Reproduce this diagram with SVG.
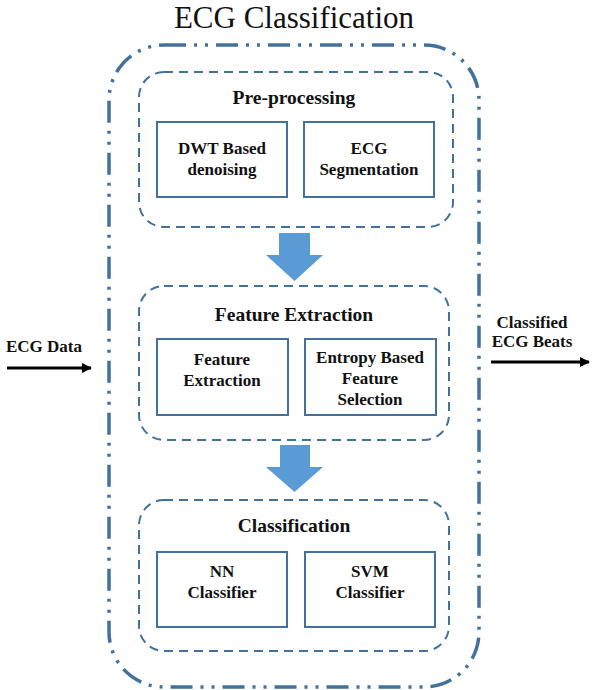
<svg xmlns="http://www.w3.org/2000/svg" width="593" height="690" viewBox="0 0 593 690">
<style>
.title{font-family:"Liberation Serif","Times New Roman",serif;font-size:31px;fill:#111;text-anchor:middle}
.grp{font-family:"Liberation Serif","Times New Roman",serif;font-size:19.5px;font-weight:bold;fill:#111;text-anchor:middle}
.lbl{font-family:"Liberation Serif","Times New Roman",serif;font-size:17px;font-weight:bold;fill:#111;text-anchor:middle}
.outer{fill:none;stroke:#41719C;stroke-width:3.5;stroke-dasharray:22 8 3 8 3 8}
.dash{fill:none;stroke:#41719C;stroke-width:2;stroke-dasharray:9 6}
.box{fill:#fff;stroke:#41719C;stroke-width:2}
.blk{fill:#5B9BD5}
.line{stroke:#000;stroke-width:3}
</style>
<defs>
<marker id="ah" markerWidth="10" markerHeight="10" refX="9" refY="5" orient="auto" markerUnits="userSpaceOnUse">
<path d="M0,0 L10,5 L0,10 z" fill="#000"/>
</marker>
</defs>
<rect width="593" height="690" fill="#fff"/>
<g id="outer">
<rect class="outer" x="109" y="45" width="370" height="642" rx="55" ry="55"/>
<text class="title" x="294" y="28">ECG Classification</text>
</g>
<g id="preprocessing">
<rect class="dash" x="139" y="72" width="314" height="155" rx="25" ry="25"/>
<text class="grp" x="294" y="104">Pre-processing</text>
</g>
<g id="dwt">
<rect class="box" x="157" y="122" width="130" height="75"/>
<text class="lbl" x="222" y="154">DWT Based</text>
<text class="lbl" x="222" y="175">denoising</text>
</g>
<g id="segmentation">
<rect class="box" x="304" y="122" width="130" height="75"/>
<text class="lbl" x="369" y="154">ECG</text>
<text class="lbl" x="369" y="175">Segmentation</text>
</g>
<g id="featureextraction-group">
<rect class="dash" x="139" y="286" width="310" height="154" rx="25" ry="25"/>
<text class="grp" x="294" y="321">Feature Extraction</text>
</g>
<g id="featureextraction">
<rect class="box" x="157" y="339" width="131" height="76"/>
<text class="lbl" x="222" y="365">Feature</text>
<text class="lbl" x="222" y="386">Extraction</text>
</g>
<g id="entropy">
<rect class="box" x="305" y="339" width="131" height="76"/>
<text class="lbl" x="370" y="363">Entropy Based</text>
<text class="lbl" x="370" y="384">Feature</text>
<text class="lbl" x="370" y="405">Selection</text>
</g>
<g id="classification-group">
<rect class="dash" x="139" y="500" width="310" height="151" rx="25" ry="25"/>
<text class="grp" x="294" y="532">Classification</text>
</g>
<g id="nn">
<rect class="box" x="157" y="552" width="130" height="75"/>
<text class="lbl" x="222" y="577">NN</text>
<text class="lbl" x="222" y="598">Classifier</text>
</g>
<g id="svm">
<rect class="box" x="305" y="552" width="130" height="75"/>
<text class="lbl" x="370" y="577">SVM</text>
<text class="lbl" x="370" y="598">Classifier</text>
</g>
<g id="input">
<text class="lbl" x="44" y="352">ECG Data</text>
</g>
<g id="output">
<text class="lbl" x="532" y="328">Classified</text>
<text class="lbl" x="532" y="347">ECG Beats</text>
</g>
<g id="connectors">
<path class="blk" d="M279,233 L310,233 L310,255 L323,255 L294.5,281 L266,255 L279,255 z"/>
<path class="blk" d="M280,445 L310,445 L310,467 L323,467 L294.5,492 L266,467 L280,467 z"/>
<line class="line" x1="7" y1="368" x2="91" y2="368" marker-end="url(#ah)"/>
<line class="line" x1="491" y1="362" x2="589" y2="362" marker-end="url(#ah)"/>
</g>
</svg>
